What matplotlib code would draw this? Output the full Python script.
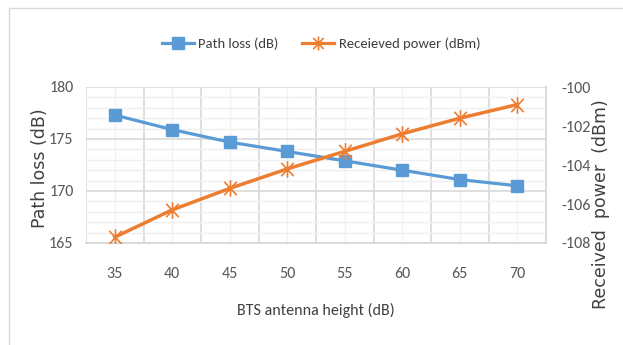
import matplotlib
matplotlib.use("Agg")
import matplotlib.pyplot as plt
from matplotlib.path import Path
from matplotlib.lines import Line2D
from matplotlib.ticker import MultipleLocator, FixedLocator

plt.rcParams["axes.unicode_minus"] = False

heights = [35, 40, 45, 50, 55, 60, 65, 70]
path_loss = [177.3, 175.9, 174.7, 173.8, 172.9, 172.0, 171.1, 170.5]
received_power = [-107.7, -106.3, -105.2, -104.2, -103.3, -102.4, -101.6, -100.9]

BLUE = "#5B9BD5"
ORANGE = "#ED7D31"
TICK = "#595959"
LABEL = "#404040"
NARROW = ["Carlito", "Fira Sans Condensed", "DejaVu Sans"]

# six-armed asterisk marker: vertical stroke plus two diagonals
star = Path(
    [(0, -1), (0, 1), (-0.75, -0.8), (0.75, 0.8), (-0.75, 0.8), (0.75, -0.8)],
    [Path.MOVETO, Path.LINETO, Path.MOVETO, Path.LINETO, Path.MOVETO, Path.LINETO],
)

W, H = 623, 345
fig = plt.figure(figsize=(W / 100, H / 100), dpi=100)
fig.patch.set_facecolor("white")
fig.lines.append(Line2D([8.5 / W, 8.5 / W, 1], [0, 1 - 7.5 / H, 1 - 7.5 / H],
                        transform=fig.transFigure, color="#D9D9D9", linewidth=1))

left, right, top, bottom = 86, 546, 87, 243
ax = fig.add_axes([left / W, 1 - bottom / H, (right - left) / W, (bottom - top) / H])
ax2 = ax.twinx()

x = list(range(len(heights)))
ax.set_xlim(-0.5, len(heights) - 0.5)
ax.set_ylim(165, 180)
ax2.set_ylim(-108, -100)

ax.xaxis.set_major_locator(FixedLocator(x))
ax.set_xticklabels([str(h) for h in heights])
ax.xaxis.set_minor_locator(FixedLocator([i - 0.5 for i in range(len(heights) + 1)]))
ax.yaxis.set_major_locator(MultipleLocator(5))
ax.yaxis.set_minor_locator(MultipleLocator(1))
ax2.yaxis.set_major_locator(MultipleLocator(2))

ax.tick_params(axis="y", labelsize=11.5, labelcolor=TICK, length=0, pad=9)
ax.tick_params(axis="x", labelsize=11.5, labelcolor=TICK, length=0, pad=17)
ax.tick_params(which="minor", length=0)
ax2.tick_params(axis="y", labelsize=11.5, labelcolor=TICK, length=0, pad=11)
for lab in ax.get_xticklabels() + ax.get_yticklabels() + ax2.get_yticklabels():
    lab.set_fontfamily(NARROW)

ax.grid(which="major", axis="y", color="#D9D9D9", linewidth=1.2)
ax.grid(which="minor", axis="y", color="#EFEFEF", linewidth=1.0)
ax.grid(which="minor", axis="x", color="#D9D9D9", linewidth=1.2)
ax.grid(which="major", axis="x", color="#F2F2F2", linewidth=1.0)
ax.set_axisbelow(True)

for a in (ax, ax2):
    for side, sp in a.spines.items():
        sp.set_visible(side in ("bottom", "right"))
        sp.set_color("#D9D9D9")
        sp.set_linewidth(1.2)

ax.plot(x, path_loss, color=BLUE, linewidth=2.3, marker="s", markersize=9,
        markerfacecolor=BLUE, markeredgecolor=BLUE, zorder=3)
ax2.plot(x, received_power, color=ORANGE, linewidth=2.5, marker=star, markersize=12,
         markerfacecolor="none", markeredgecolor=ORANGE, markeredgewidth=1.2, zorder=3)

ax.set_xlabel("BTS antenna height (dB)", fontfamily=NARROW, fontsize=11.5, color=LABEL)
ax.xaxis.set_label_coords(0.5, -(310 - bottom) / (bottom - top), transform=ax.transAxes)
ax.xaxis.label.set_va("center")

ax.set_ylabel("Path loss (dB)", fontsize=12.5, color=LABEL)
ax.yaxis.set_label_coords((40 - left) / (right - left), (bottom - 168) / (bottom - top))
ax.yaxis.label.set_va("center")
ax2.set_ylabel("Received  power  (dBm)", fontsize=12.5, color=LABEL)
ax2.yaxis.set_label_coords((601 - left) / (right - left), (bottom - 204) / (bottom - top))
ax2.yaxis.label.set_va("center")

handles = [
    Line2D([], [], color=BLUE, linewidth=2.3, marker="s", markersize=8),
    Line2D([], [], color=ORANGE, linewidth=2.3, marker=star, markersize=10,
           markerfacecolor="none", markeredgewidth=1.2),
]
fig.legend(handles, ["Path loss (dB)", "Receieved power (dBm)"], loc="center",
           bbox_to_anchor=(321 / W, 1 - 44 / H), ncol=2, frameon=False,
           prop={"family": NARROW, "size": 10.5}, labelcolor=LABEL,
           handlelength=2.2, handletextpad=0.3, columnspacing=1.6)

fig.savefig("out.png", dpi=100, facecolor="white")
